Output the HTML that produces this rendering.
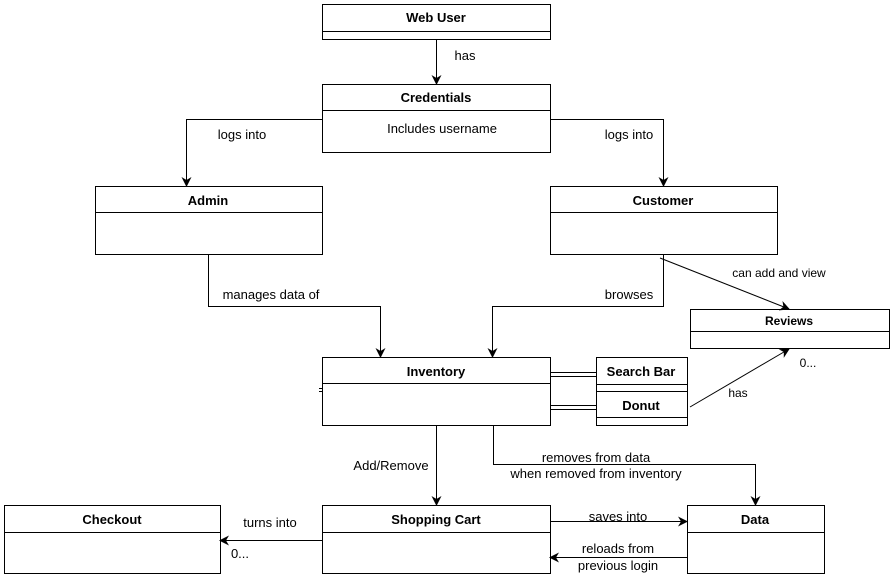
<!DOCTYPE html>
<html><head><style>body{margin:0;background:#fff}svg{display:block}text{font-family:"Liberation Sans",sans-serif;font-size:13px;fill:#000}.b{font-weight:bold}</style></head>
<body>
<svg width="892" height="579" viewBox="0 0 892 579">
<defs><marker id="a" markerWidth="10" markerHeight="10" refX="9" refY="5" orient="auto" markerUnits="userSpaceOnUse"><path d="M0,0L10,5L0,10L3,5z" fill="#000"/></marker></defs>
<g fill="#fff" stroke="#000" stroke-width="1">
<rect x="322.5" y="4.5" width="228" height="35"/><line x1="322" y1="31.5" x2="550" y2="31.5"/>
<rect x="322.5" y="84.5" width="228" height="68"/><line x1="322" y1="110.5" x2="550" y2="110.5"/>
<rect x="95.5" y="186.5" width="227" height="68"/><line x1="95" y1="212.5" x2="322" y2="212.5"/>
<rect x="550.5" y="186.5" width="227" height="68"/><line x1="550" y1="212.5" x2="777" y2="212.5"/>
<rect x="690.5" y="309.5" width="199" height="39"/><line x1="690" y1="331.5" x2="889" y2="331.5"/>
<rect x="322.5" y="357.5" width="228" height="68"/><line x1="322" y1="383.5" x2="550" y2="383.5"/>
<rect x="596.5" y="357.5" width="91" height="34"/><line x1="596" y1="384.5" x2="687" y2="384.5"/>
<rect x="596.5" y="391.5" width="91" height="34"/><line x1="596" y1="417.5" x2="687" y2="417.5"/>
<rect x="322.5" y="505.5" width="228" height="68"/><line x1="322" y1="532.5" x2="550" y2="532.5"/>
<rect x="4.5" y="505.5" width="216" height="68"/><line x1="4" y1="532.5" x2="220" y2="532.5"/>
<rect x="687.5" y="505.5" width="137" height="68"/><line x1="687" y1="532.5" x2="824" y2="532.5"/>
</g>
<g fill="none" stroke="#000" stroke-width="1">
<path d="M436.5 39V84" marker-end="url(#a)"/>
<path d="M322 119.5H186.5V186" marker-end="url(#a)"/>
<path d="M550 119.5H663.5V186" marker-end="url(#a)"/>
<path d="M208.5 254V306.5H380.5V357" marker-end="url(#a)"/>
<path d="M663.5 254V306.5H492.5V357" marker-end="url(#a)"/>
<path d="M660 258L789 309" marker-end="url(#a)"/>
<path d="M690 407L789 349" marker-end="url(#a)"/>
<path d="M550 372.5H596M550 376.5H596M550 405.5H596M550 409.5H596"/>
<path d="M436.5 425V505" marker-end="url(#a)"/>
<path d="M493.5 425V464.5H755.5V505" marker-end="url(#a)"/>
<path d="M550 521.5H687" marker-end="url(#a)"/>
<path d="M687 557.5H550" marker-end="url(#a)"/>
<path d="M322 540.5H220" marker-end="url(#a)"/>
<path d="M319 388.5H322M319 391.5H322"/>
</g>
<g text-anchor="middle">
<text class="b" x="436" y="22">Web User</text>
<text class="b" x="436" y="102">Credentials</text>
<text x="442" y="133">Includes username</text>
<text class="b" x="208" y="205">Admin</text>
<text class="b" x="663" y="205">Customer</text>
<text class="b" x="789" y="325" style="font-size:12px">Reviews</text>
<text class="b" x="436" y="376">Inventory</text>
<text class="b" x="641" y="376">Search Bar</text>
<text class="b" x="641" y="410">Donut</text>
<text class="b" x="436" y="524">Shopping Cart</text>
<text class="b" x="112" y="524">Checkout</text>
<text class="b" x="755" y="524">Data</text>
<text x="465" y="60">has</text>
<text x="242" y="139">logs into</text>
<text x="629" y="139">logs into</text>
<text x="271" y="299">manages data of</text>
<text x="629" y="299">browses</text>
<text x="779" y="277" style="font-size:12px">can add and view</text>
<text x="738" y="397" style="font-size:12px">has</text>
<text x="808" y="367" style="font-size:12px">0...</text>
<text x="391" y="470">Add/Remove</text>
<text x="596" y="462">removes from data</text>
<text x="596" y="478">when removed from inventory</text>
<text x="618" y="521">saves into</text>
<text x="618" y="553">reloads from</text>
<text x="618" y="570">previous login</text>
<text x="270" y="527">turns into</text>
<text x="240" y="558">0...</text>
</g>
</svg>
</body></html>
